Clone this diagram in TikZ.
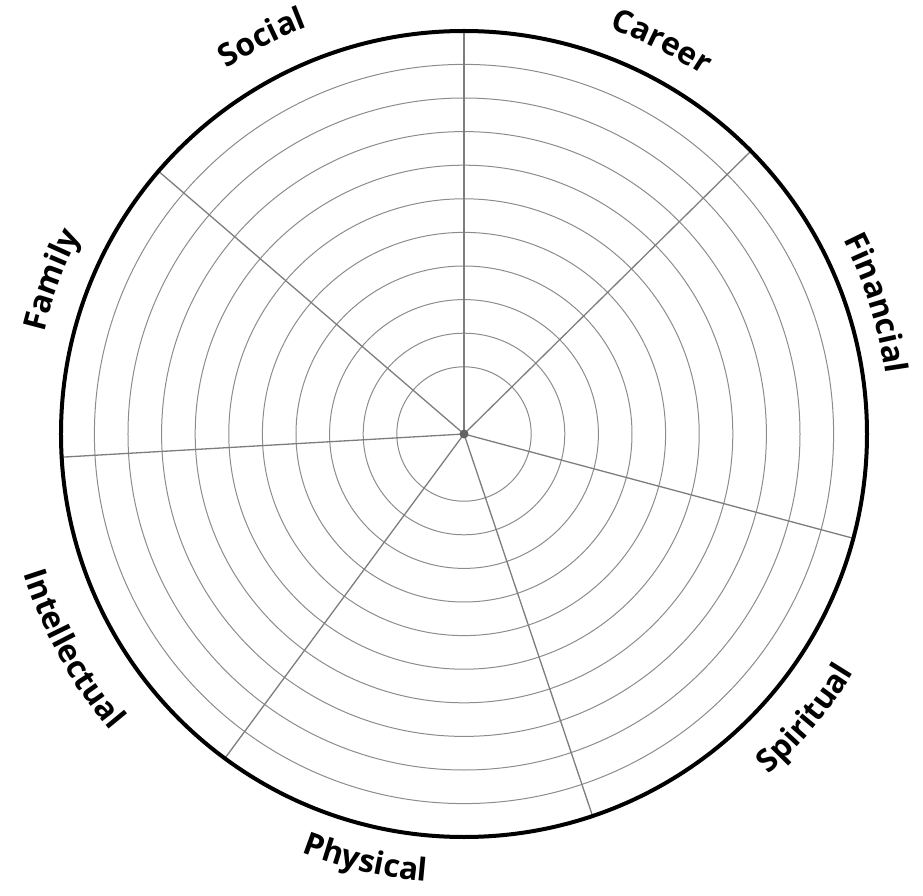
\documentclass[tikz,border=0pt]{standalone}
\usepackage{fontspec}
\setmainfont{Open Sans}
\usepackage{tikz}
\usetikzlibrary{decorations.text}

\definecolor{spokegray}{RGB}{125,125,125}
\definecolor{ringgray}{RGB}{140,140,140}
\definecolor{dotgray}{RGB}{100,100,100}

\newcommand{\wheellabel}{\fontsize{31.5}{34}\selectfont\bfseries}

\tikzset{
    ring/.style={ringgray, line width=1pt},
    spoke/.style={spokegray, line width=1.3pt},
    rim/.style={black, line width=4pt},
    outlabel/.style={decorate, decoration={text along path,
        text align=center, text={|\wheellabel|#1}}}
}

\begin{document}
\begin{tikzpicture}[x=1pt, y=1pt]

    \useasboundingbox (-464,-462) rectangle (459,434);

    % Rings
    \foreach \k in {2,...,11}
        \draw[ring] (0,0) circle[radius=33.6*\k];

    % Spokes
    \foreach \a in {90,44.6,-15,-71.4,-126.4,183.3,139.3}
        \draw[spoke] (0,0) -- (\a:403);

    % Centre dot and rim
    \fill[dotgray] (0,0) circle[radius=4.5];
    \draw[rim] (0,0) circle[radius=403];

    % Labels, clockwise ones sit on the rim
    \path[outlabel=Social] (147:436) arc[start angle=147, end angle=87, radius=436];
    \path[outlabel=Career] (93.3:431) arc[start angle=93.3, end angle=33.3, radius=431];
    \path[outlabel=Financial] (47.6:426) arc[start angle=47.6, end angle=-12.4, radius=426];
    \path[outlabel=Family] (189.5:432) arc[start angle=189.5, end angle=129.5, radius=432];

    % Labels read the other way round
    \path[outlabel=Spiritual] (-69.8:457) arc[start angle=-69.8, end angle=-9.8, radius=457];
    \path[outlabel=Physical] (-133:449) arc[start angle=-133, end angle=-73, radius=449];
    \path[outlabel=Intellectual] (178.8:462) arc[start angle=178.8, end angle=238.8, radius=462];

\end{tikzpicture}
\end{document}
